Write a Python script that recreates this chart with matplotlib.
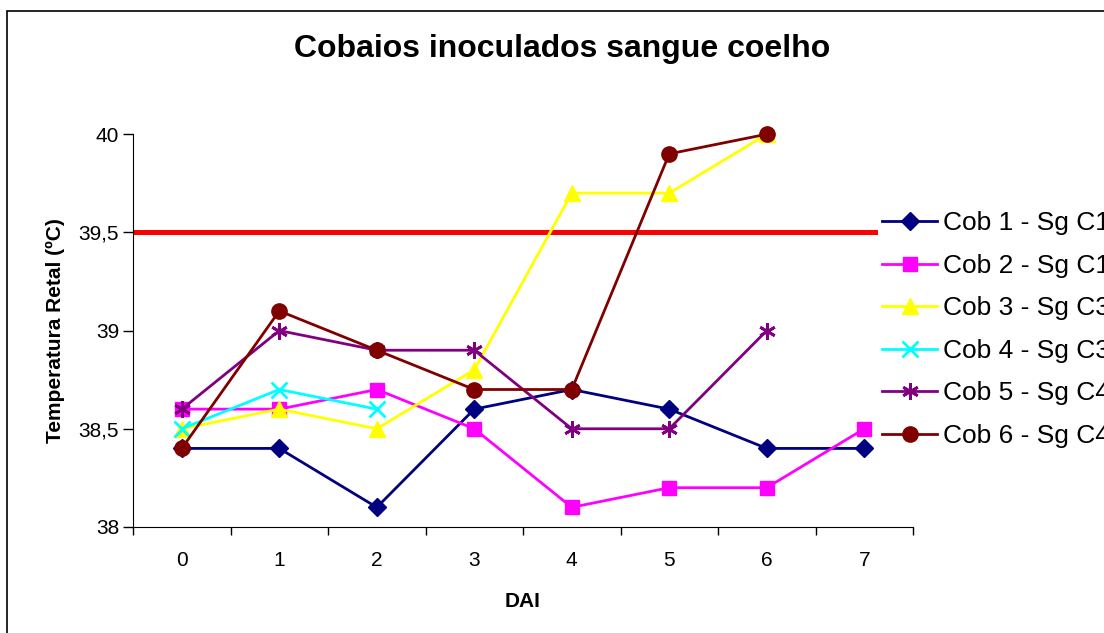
import numpy as np
import matplotlib.pyplot as plt
from matplotlib.patches import Rectangle

plt.rcParams['font.family'] = ['Liberation Sans', 'DejaVu Sans']

dai = [0, 1, 2, 3, 4, 5, 6, 7]
cob1 = [38.4, 38.4, 38.1, 38.6, 38.7, 38.6, 38.4, 38.4]
cob2 = [38.6, 38.6, 38.7, 38.5, 38.1, 38.2, 38.2, 38.5]
cob3 = [38.5, 38.6, 38.5, 38.8, 39.7, 39.7, 40.0]
cob4 = [38.5, 38.7, 38.6]
cob5 = [38.6, 39.0, 38.9, 38.9, 38.5, 38.5, 39.0]
cob6 = [38.4, 39.1, 38.9, 38.7, 38.7, 39.9, 40.0]
limite = 39.5

series = [
    ("Cob 1 - Sg C1", cob1, "#000080", "D", 9),
    ("Cob 2 - Sg C1", cob2, "#FF00FF", "s", 10),
    ("Cob 3 - Sg C3", cob3, "#FFFF00", "^", 11),
    ("Cob 4 - Sg C3", cob4, "#00FFFF", "x", 11),
    ("Cob 5 - Sg C4", cob5, "#800080", (6, 2, 0), 12),
    ("Cob 6 - Sg C4", cob6, "#800000", "o", 11),
]

fig = plt.figure(figsize=(11.04, 6.33), dpi=100)
ax = fig.add_axes([0.1205, 0.1675, 0.7065, 0.6205])

# linha de referência (febre)
ax.axhline(limite, xmin=0, xmax=0.951, color="#FF0000", lw=3.6, zorder=1)

for name, vals, col, mk, ms in series:
    ax.plot(dai[:len(vals)], vals, color=col, lw=2, marker=mk, ms=ms,
            mec=col, mfc=col, mew=2 if mk in ("x", (6, 2, 0)) else 1,
            label=name, clip_on=False, zorder=3)

ax.set_xlim(-0.5, 7.5)
ax.set_ylim(38, 40)
ax.set_yticks([38, 38.5, 39, 39.5, 40])
ax.set_yticklabels(["38", "38,5", "39", "39,5", "40"])
ax.set_xticks(dai)
ax.set_xticks(np.arange(-0.5, 8, 1), minor=True)
ax.tick_params(axis='x', which='major', length=0, pad=17, labelsize=15)
ax.tick_params(axis='x', which='minor', length=6, width=1, direction='out')
ax.tick_params(axis='y', length=7, width=1, direction='out', labelsize=15, pad=3)
for s in ["top", "right"]:
    ax.spines[s].set_visible(False)

ax.set_xlabel("DAI", fontsize=15, fontweight="bold", labelpad=16)
ax.set_ylabel("Temperatura Retal (ºC)", fontsize=15, fontweight="bold", labelpad=10)
fig.text(0.509, 0.922, "Cobaios inoculados sangue coelho", ha="center", va="center",
         fontsize=23, fontweight="bold")

ax.legend(loc="upper left", bbox_to_anchor=(0.799, 0.666), bbox_transform=fig.transFigure,
          frameon=False, fontsize=19, handlelength=2.08, handletextpad=0.23,
          labelspacing=0.70, borderaxespad=0, borderpad=0)

fig.patches.append(Rectangle((0.0065, -0.2), 1.2, 0.2 + (633 - 11) / 633,
                             transform=fig.transFigure, fill=False, ec="black", lw=1.2))

fig.savefig("out.png", dpi=100)
